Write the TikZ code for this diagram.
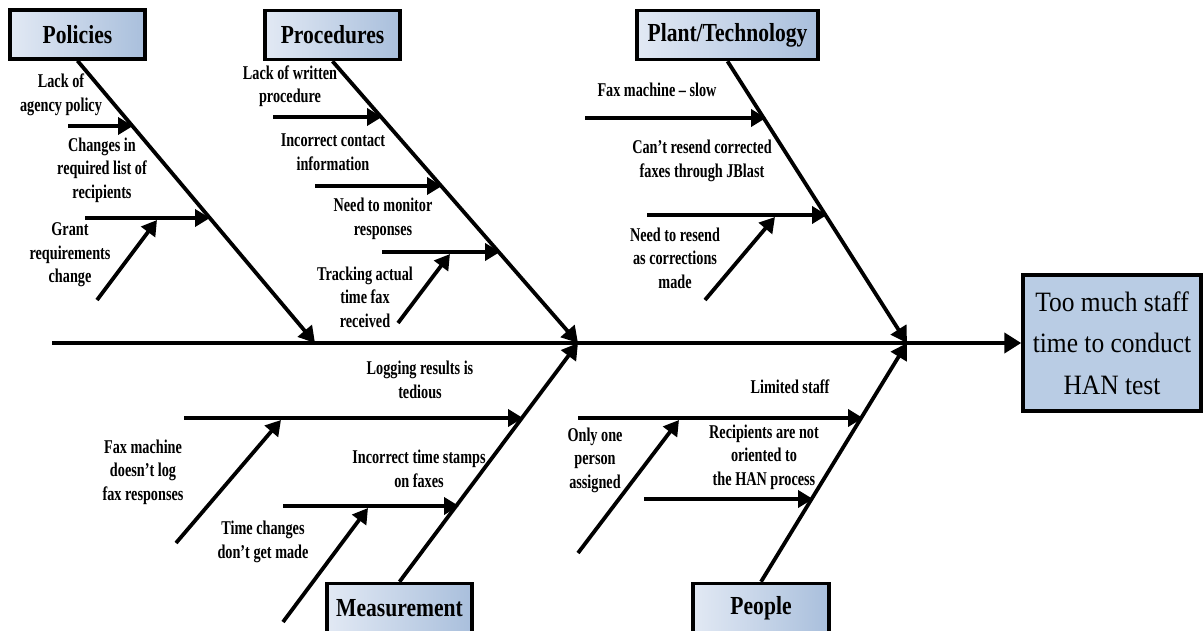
\documentclass[tikz,border=0pt]{standalone}
\usepackage{fontspec}
\setmainfont{Liberation Serif}
\newfontfamily\lblfont[FakeStretch=0.73,Ligatures=TeX]{Liberation Serif}
\newfontfamily\hdrfont[FakeStretch=0.83,Ligatures=TeX]{Liberation Serif}
\newfontfamily\effont[FakeStretch=0.91,Ligatures=TeX]{Liberation Serif}
\usetikzlibrary{arrows.meta}

\definecolor{catL}{HTML}{E2E9F4}
\definecolor{catR}{HTML}{A9BFDC}
\definecolor{effectfill}{HTML}{B9CCE4}

\tikzset{
  catbox/.style={draw=black, line width=3.5pt, left color=catL, right color=catR,
    minimum width=#1, minimum height=49pt, inner sep=0pt,
    font=\hdrfont\bfseries\fontsize{26}{30}\selectfont},
  effectbox/.style={draw=black, line width=3.5pt, fill=effectfill,
    minimum width=178pt, minimum height=136pt, inner sep=0pt, align=center,
    font=\effont\fontsize{28}{41.5}\selectfont},
  lbl/.style={align=center, inner sep=0pt,
    font=\lblfont\bfseries\fontsize{19.5}{23.5}\selectfont},
  spine/.style={line width=4.2pt, -{Triangle[length=17pt,width=20pt]}},
  bone/.style={line width=3.8pt, -{Triangle[length=16pt,width=18pt]}},
  cause/.style={line width=3.8pt, -{Triangle[length=15pt,width=17pt]}}
}

\begin{document}
\begin{tikzpicture}[x=1pt, y=-1pt]
\useasboundingbox (0,0) rectangle (1204,631);

% category boxes and the effect box
\node[catbox=135pt] (pol) at (77.5,34.5) {Policies};
\node[catbox=135pt] (pro) at (332.5,35) {Procedures};
\node[catbox=181pt] (pla) at (727.5,35) {Plant/Technology};
\node[catbox=145pt] (mea) at (399.5,608) {Measurement};
\node[catbox=136pt] (peo) at (761,608) {People};
\node[effectbox] (eff) at (1112,343) {Too much staff\\time to conduct\\HAN test};

% points where the bones meet the spine
\coordinate (tail) at (52,343);
\coordinate (jpol) at (315,343);
\coordinate (jpro) at (578,343);
\coordinate (jpla) at (907,343);

% spine and bones
\draw[spine] (tail) -- (eff.west);
\draw[bone] (pol.south) -- (jpol);
\draw[bone] (pro.south) -- (jpro);
\draw[bone] (pla.south) -- (jpla);
\draw[bone] (mea.north) -- (jpro);
\draw[bone] (peo.north) -- (jpla);

% --- Policies
\coordinate (a1s) at (68,126);  \coordinate (a1e) at (133,126);
\coordinate (a2s) at (85,218);  \coordinate (a2e) at (210,218);
\coordinate (a3s) at (97,300);  \coordinate (a3e) at (157,220);
\draw[cause] (a1s) -- (a1e);
\draw[cause] (a2s) -- (a2e);
\draw[cause] (a3s) -- (a3e);
\node[lbl] (l1) at (61,95) {Lack of\\agency policy};
\node[lbl] (l2) at (102,170) {Changes in\\required list of\\recipients};
\node[lbl] (l3) at (70,255) {Grant\\requirements\\change};

% --- Procedures
\coordinate (b1s) at (273,117); \coordinate (b1e) at (382,117);
\coordinate (b2s) at (315,186); \coordinate (b2e) at (442,186);
\coordinate (b3s) at (382,252); \coordinate (b3e) at (500,252);
\coordinate (b4s) at (398,323); \coordinate (b4e) at (450,254);
\draw[cause] (b1s) -- (b1e);
\draw[cause] (b2s) -- (b2e);
\draw[cause] (b3s) -- (b3e);
\draw[cause] (b4s) -- (b4e);
\node[lbl] (m1) at (290,86) {Lack of written\\procedure};
\node[lbl] (m2) at (333,152) {Incorrect contact\\information};
\node[lbl] (m3) at (383,219) {Need to monitor\\responses};
\node[lbl] (m4) at (365,297) {Tracking actual\\time fax\\received};

% --- Plant/Technology
\coordinate (c1s) at (585,118); \coordinate (c1e) at (766,118);
\coordinate (c2s) at (647,215); \coordinate (c2e) at (827,215);
\coordinate (c3s) at (705,300); \coordinate (c3e) at (775,217);
\draw[cause] (c1s) -- (c1e);
\draw[cause] (c2s) -- (c2e);
\draw[cause] (c3s) -- (c3e);
\node[lbl] (n1) at (657,90) {Fax machine – slow};
\node[lbl] (n2) at (702,161) {Can’t resend corrected\\faxes through JBlast};
\node[lbl] (n3) at (675,258) {Need to resend\\as corrections\\made};

% --- Measurement
\coordinate (d1s) at (184,418); \coordinate (d1e) at (523,418);
\coordinate (d2s) at (176,543); \coordinate (d2e) at (281,420);
\coordinate (d3s) at (283,506); \coordinate (d3e) at (459,506);
\coordinate (d4s) at (283,622); \coordinate (d4e) at (368,508);
\draw[cause] (d1s) -- (d1e);
\draw[cause] (d2s) -- (d2e);
\draw[cause] (d3s) -- (d3e);
\draw[cause] (d4s) -- (d4e);
\node[lbl] (o1) at (420,380) {Logging results is\\tedious};
\node[lbl] (o2) at (143,472) {Fax machine\\doesn’t log\\fax responses};
\node[lbl] (o3) at (419,469) {Incorrect time stamps\\on faxes};
\node[lbl] (o4) at (263,542) {Time changes\\don’t get made};

% --- People
\coordinate (e1s) at (578,418); \coordinate (e1e) at (863,418);
\coordinate (e2s) at (578,553); \coordinate (e2e) at (679,420);
\coordinate (e3s) at (644,499); \coordinate (e3e) at (813,499);
\draw[cause] (e1s) -- (e1e);
\draw[cause] (e2s) -- (e2e);
\draw[cause] (e3s) -- (e3e);
\node[lbl] (q1) at (790,387) {Limited staff};
\node[lbl] (q2) at (595,460) {Only one\\person\\assigned};
\node[lbl] (q3) at (764,457) {Recipients are not\\oriented to\\the HAN process};
\end{tikzpicture}
\end{document}
